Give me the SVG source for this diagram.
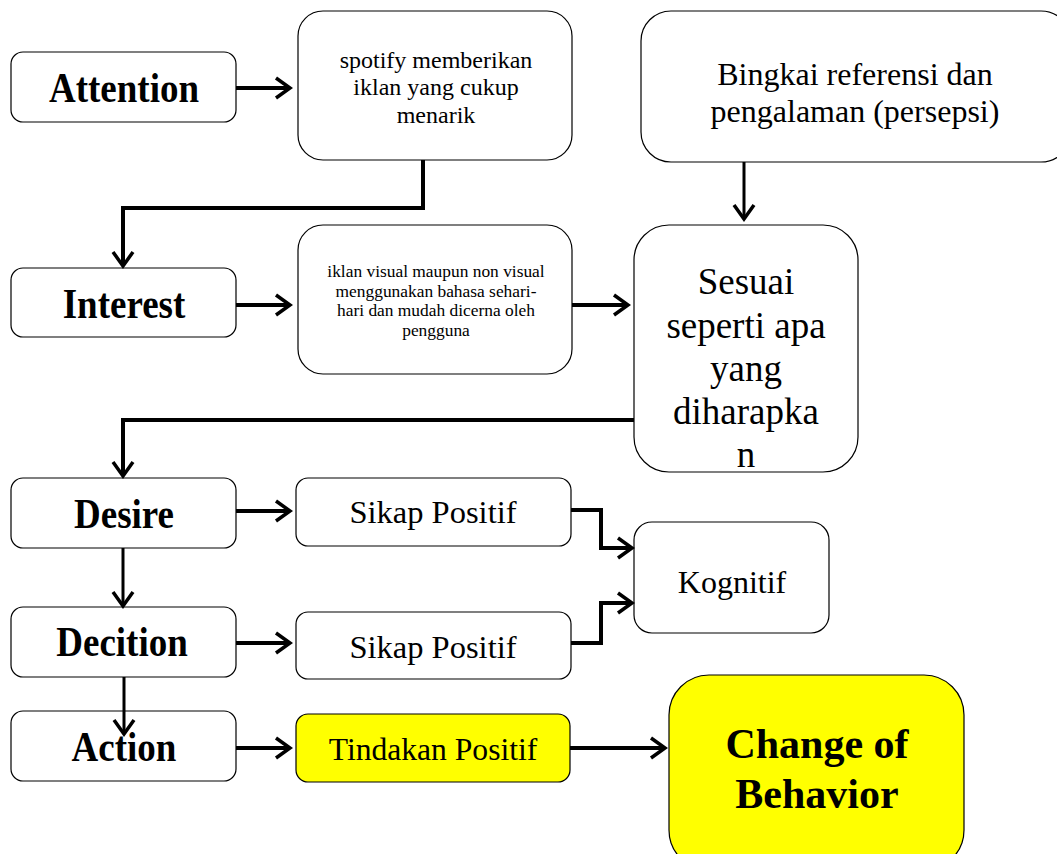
<svg xmlns="http://www.w3.org/2000/svg" width="1057" height="854" viewBox="0 0 1057 854" font-family="'Liberation Serif', 'Times New Roman', Times, serif">
<style>
.box{fill:#fff;stroke:#000;stroke-width:1.2}
.yel{fill:#ffff00;stroke:#000;stroke-width:1.2}
text{fill:#000;text-anchor:middle}
.b{font-weight:bold}
.lb{font-weight:bold;font-size:37px}
.c{fill:none;stroke:#000;stroke-width:4}
.t{fill:none;stroke:#000;stroke-width:3}
</style>
<defs>
<marker id="ah" markerUnits="userSpaceOnUse" markerWidth="22" markerHeight="24" viewBox="0 0 22 24" refX="19" refY="12" orient="auto">
<path d="M5,2 L19,12 L5,22" fill="none" stroke="#000" stroke-width="3.5"/>
</marker>
</defs>
<rect width="1057" height="854" fill="#fff"/>
<g id="attention"><rect class="box" x="11" y="52" width="225" height="70" rx="12"/><text class="lb" transform="translate(124,102) scale(1,1.15)">Attention</text></g>
<g id="spotify"><rect class="box" x="298" y="11" width="274" height="149" rx="25"/>
<text x="436" y="68" font-size="24">spotify memberikan</text><text x="436" y="95" font-size="24">iklan yang cukup</text><text x="436" y="123" font-size="24">menarik</text></g>
<g id="bingkai"><rect class="box" x="641" y="11" width="430" height="151" rx="30"/>
<text x="855" y="85" font-size="32">Bingkai referensi dan</text><text x="855" y="122" font-size="32">pengalaman (persepsi)</text></g>
<g id="interest"><rect class="box" x="11" y="268" width="225" height="69" rx="12"/><text class="lb" transform="translate(124,318) scale(1,1.15)">Interest</text></g>
<g id="iklan"><rect class="box" x="298" y="225" width="274" height="149" rx="25"/>
<text x="436" y="277" font-size="17.4">iklan visual maupun non visual</text><text x="436" y="297" font-size="17.4">menggunakan bahasa sehari-</text><text x="436" y="316" font-size="17.4">hari dan mudah dicerna oleh</text><text x="436" y="336" font-size="17.4">pengguna</text></g>
<g id="sesuai"><rect class="box" x="634" y="225" width="224" height="247" rx="35"/>
<text x="746" y="294" font-size="37">Sesuai</text><text x="746" y="338" font-size="37">seperti apa</text><text x="746" y="381" font-size="37">yang</text><text x="746" y="424" font-size="37">diharapka</text><text x="746" y="467" font-size="37">n</text></g>
<g id="desire"><rect class="box" x="11" y="478" width="225" height="70" rx="12"/><text class="lb" transform="translate(124,528) scale(1,1.15)">Desire</text></g>
<g id="sikap1"><rect class="box" x="296" y="478" width="275" height="68" rx="12"/><text x="433" y="523" font-size="32.5">Sikap Positif</text></g>
<g id="kognitif"><rect class="box" x="634" y="522" width="195" height="111" rx="18"/><text x="732" y="593" font-size="32">Kognitif</text></g>
<g id="decition"><rect class="box" x="11" y="607" width="225" height="70" rx="12"/><text class="lb" transform="translate(122,656) scale(1,1.15)">Decition</text></g>
<g id="sikap2"><rect class="box" x="296" y="612" width="275" height="67" rx="12"/><text x="433" y="658" font-size="32.5">Sikap Positif</text></g>
<g id="action"><rect class="box" x="11" y="711" width="225" height="70" rx="12"/><text class="lb" transform="translate(124,761) scale(1,1.15)">Action</text></g>
<g id="tindakan"><rect class="yel" x="296" y="714" width="274" height="68" rx="12"/><text x="433" y="760" font-size="31.6">Tindakan Positif</text></g>
<g id="change"><rect class="yel" x="669" y="675" width="295" height="195" rx="40"/>
<text class="b" x="817" y="758" font-size="42">Change of</text><text class="b" x="817" y="808" font-size="42">Behavior</text></g>
<g id="connectors">
<path class="c" d="M236,88 H290" marker-end="url(#ah)"/>
<path class="c" d="M423,160 V208 H123 V266" marker-end="url(#ah)"/>
<path class="t" d="M744,162 V219" marker-end="url(#ah)"/>
<path class="c" d="M236,305 H290" marker-end="url(#ah)"/>
<path class="c" d="M572,305 H628" marker-end="url(#ah)"/>
<path class="c" d="M634,420 H123 V476" marker-end="url(#ah)"/>
<path class="c" d="M236,511 H290" marker-end="url(#ah)"/>
<path class="c" d="M571,510 H601 V548 H632" marker-end="url(#ah)"/>
<path class="t" d="M123,548 V606" marker-end="url(#ah)"/>
<path class="c" d="M236,643 H290" marker-end="url(#ah)"/>
<path class="c" d="M571,643 H601 V603 H632" marker-end="url(#ah)"/>
<path class="t" d="M124,677 V734" marker-end="url(#ah)"/>
<path class="c" d="M236,748 H290" marker-end="url(#ah)"/>
<path class="c" d="M570,748 H665" marker-end="url(#ah)"/>
</g>
</svg>
